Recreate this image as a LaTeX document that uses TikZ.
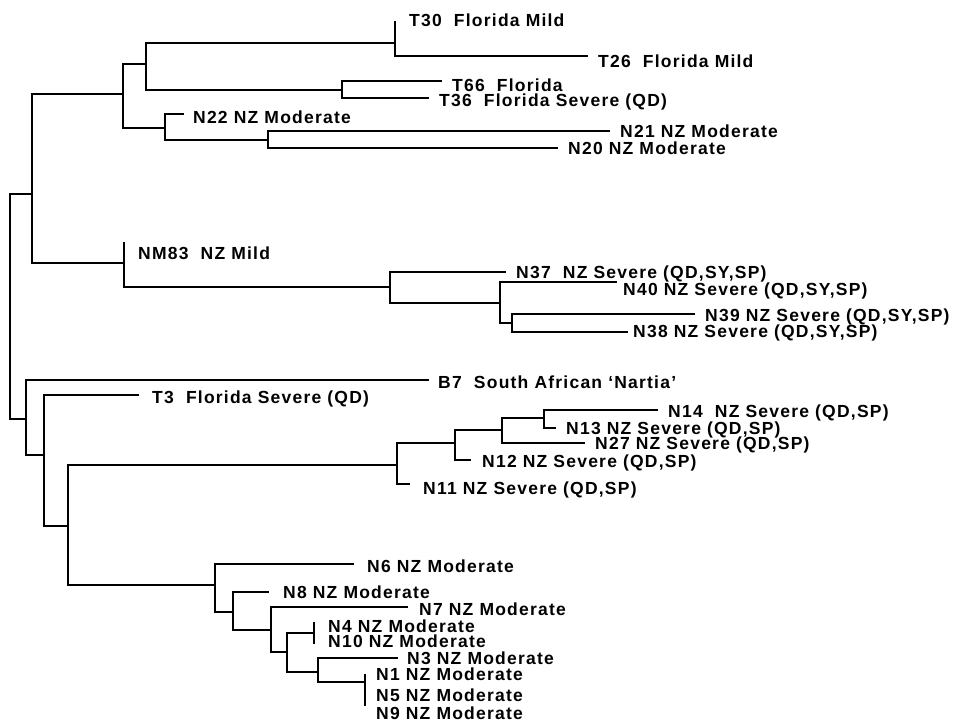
\documentclass[tikz,border=0pt]{standalone}
\usepackage{fontspec}
\setmainfont{Liberation Sans}
\newfontfamily\lblfont[LetterSpace=7]{Liberation Sans}
\begin{document}
\begin{tikzpicture}[x=1pt,y=-1pt,
  br/.style={line width=1.8pt, line cap=rect},
  lbl/.style={anchor=base west, inner sep=0pt, font=\lblfont\fontsize{17.5}{20}\selectfont\bfseries}]
\useasboundingbox (0,0) rectangle (959,721);
% root
\coordinate (R-t) at (10,194);
\coordinate (R-b) at (10,419);
\coordinate (R) at (10,306);
\draw[br] (R-t) -- (R-b);
% internal nodes: name / x / top / bottom / join y / parent
\foreach \n/\x/\t/\b/\j/\p in {
  A/32/94/263/194/R, B/26/380/455/419/R,
  C/123/64/128/94/A, NM/124/243/287/263/A,
  D/146/43/90/64/C, E/165/114/140/128/C,
  F/395/22/56/43/D, G/342/81/98/90/D, H/268/131/148/140/E,
  I/390/272/303/287/NM, J/500/282/323/303/I, K/512/314/332/323/J,
  L/44/395/526/455/B, M/68/465/585/526/L,
  O/397/443/484/465/M, Q/455/430/460/443/O, S/502/418/443/430/Q, U/544/410/428/418/S,
  P/215/564/612/585/M, V/233/592/630/612/P, W/271/607/652/630/V,
  X/287/633/672/652/W, Y/314/623/643/633/X, Z/318/658/682/672/X, AA/365/675/705/682/Z}
{
  \coordinate (\n) at (\x,\j);
  \coordinate (\n-t) at (\x,\t);
  \coordinate (\n-b) at (\x,\b);
  \draw[br] (\n-t) -- (\n-b);
  \draw[br] (\n) -- (\n -| \p);
}
% leaves with branches: name / tip x / tip y / parent / label x / label centre y / text
\foreach \n/\tx/\ty/\p/\lx/\ly/\txt in {
  t26/587/56/F/598/61/{T26\ \ Florida Mild},
  t66/441/81/G/452/85/{T66\ \ Florida},
  t36/428/98/G/439/100/{T36\ \ Florida Severe (QD)},
  n22/183/114/E/193/117/{N22 NZ Moderate},
  n21/609/131/H/620/131/{N21 NZ Moderate},
  n20/557/148/H/568/148/{N20 NZ Moderate},
  n37/505/272/I/516/272/{N37\ \ NZ Severe (QD,SY,SP)},
  n40/616/282/J/623/289/{N40 NZ Severe (QD,SY,SP)},
  n39/694/314/K/705/315/{N39 NZ Severe (QD,SY,SP)},
  n38/627/332/K/633/331/{N38 NZ Severe (QD,SY,SP)},
  b7/428/380/B/438/382/{B7\ \ South African ‘Nartia’},
  t3/138/395/L/152/397/{T3\ \ Florida Severe (QD)},
  n11/409/484/O/423/488/{N11 NZ Severe (QD,SP)},
  n12/470/460/Q/482/461/{N12 NZ Severe (QD,SP)},
  n27/584/443/S/595/443/{N27 NZ Severe (QD,SP)},
  n14/657/410/U/668/411/{N14\ \ NZ Severe (QD,SP)},
  n13/555/428/U/566/428/{N13 NZ Severe (QD,SP)},
  n6/353/564/P/367/566/{N6 NZ Moderate},
  n8/268/592/V/283/592/{N8 NZ Moderate},
  n7/407/607/W/419/609/{N7 NZ Moderate},
  n3/397/658/Z/407/658/{N3 NZ Moderate}}
{
  \coordinate (\n) at (\tx,\ty);
  \draw[br] (\n) -- (\n -| \p);
  \node[lbl] (\n-l) at (\lx,\ly+6) {\txt};
}
% zero-length leaves: name / label x / label centre y / text
\foreach \n/\lx/\ly/\txt in {
  t30/409/20/{T30\ \ Florida Mild},
  nm83/138/253/{NM83\ \ NZ Mild},
  n4/328/626/{N4 NZ Moderate},
  n10/328/641/{N10 NZ Moderate},
  n1/376/674/{N1 NZ Moderate},
  n5/376/695/{N5 NZ Moderate},
  n9/376/713/{N9 NZ Moderate}}
{
  \node[lbl] (\n-l) at (\lx,\ly+6) {\txt};
}
\end{tikzpicture}
\end{document}
